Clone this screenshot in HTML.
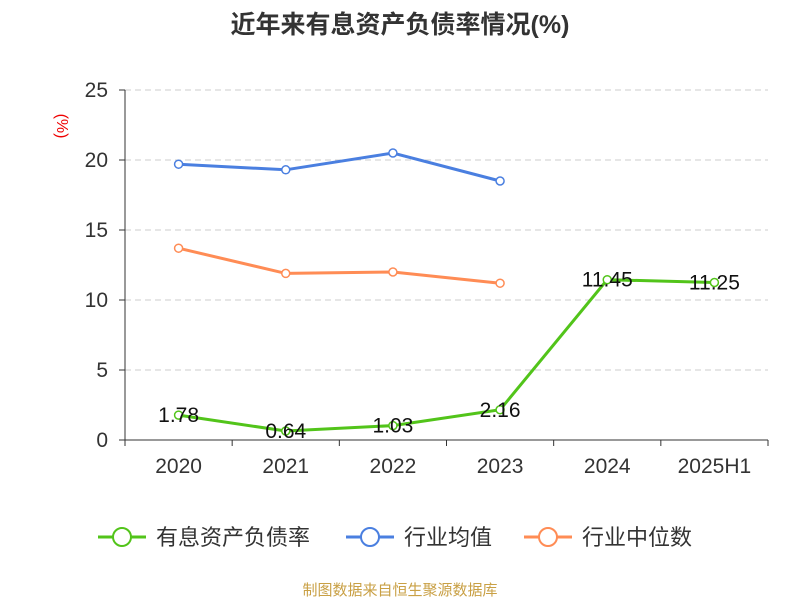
<!DOCTYPE html>
<html><head><meta charset="utf-8"><style>
body{margin:0;background:#fff;}
svg{font-family:"Liberation Sans","Noto Sans CJK SC",sans-serif;}
</style></head><body>
<svg id="c" width="800" height="600">
<text x="400" y="33" text-anchor="middle" font-size="25" font-weight="bold" fill="#333">近年来有息资产负债率情况(%)</text>
<text x="0" y="0" text-anchor="middle" font-size="16" fill="#e00" transform="translate(57 126) rotate(90)">(%)</text>
<g id="grid"></g><g id="axes"></g><g id="series"></g>
<g>
<g><line x1="98" y1="537" x2="146" y2="537" stroke="#52c41a" stroke-width="3"/><circle cx="122" cy="537" r="9" fill="#fff" stroke="#52c41a" stroke-width="2"/><text x="156" y="545" font-size="22" fill="#333">有息资产负债率</text></g>
<g><line x1="346" y1="537" x2="394" y2="537" stroke="#4a7fe0" stroke-width="3"/><circle cx="370" cy="537" r="9" fill="#fff" stroke="#4a7fe0" stroke-width="2"/><text x="404" y="545" font-size="22" fill="#333">行业均值</text></g>
<g><line x1="524" y1="537" x2="572" y2="537" stroke="#ff8c55" stroke-width="3"/><circle cx="548" cy="537" r="9" fill="#fff" stroke="#ff8c55" stroke-width="2"/><text x="582" y="545" font-size="22" fill="#333">行业中位数</text></g>
</g>
<text x="400" y="595" text-anchor="middle" font-size="15" fill="#c9a045">制图数据来自恒生聚源数据库</text>
</svg>
<script>
const categories=["2020","2021","2022","2023","2024","2025H1"];
const debtRatio=[1.78,0.64,1.03,2.16,11.45,11.25];
const industryAvg=[19.7,19.3,20.5,18.5];
const industryMedian=[13.7,11.9,12.0,11.2];
const yTicks=[0,5,10,15,20,25];
const NS="http://www.w3.org/2000/svg";
const L=125,R=768,T=90,B=440,yMax=25;
const bw=(R-L)/categories.length;
const xs=i=>L+bw*(i+0.5);
const ys=v=>B-(v/yMax)*(B-T);
function mk(tag,attrs,parent){const e=document.createElementNS(NS,tag);for(const k in attrs)e.setAttribute(k,attrs[k]);parent.appendChild(e);return e;}
const grid=document.getElementById('grid'),axes=document.getElementById('axes'),ser=document.getElementById('series');
yTicks.forEach(t=>{
 const y=ys(t);
 if(t>0){const g=mk('line',{x1:L,x2:R,y1:y,y2:y,stroke:'#ccc','stroke-dasharray':'6 4'},grid);
 
 }
 const tk=mk('line',{x1:L-6,x2:L,y1:y,y2:y,stroke:'#333'},axes);
 
 
 const tx=mk('text',{x:L-17,y:y+7,'text-anchor':'end','font-size':21,fill:'#333'},axes);tx.textContent=t;
 
 
});
const ya=mk('line',{x1:L,x2:L,y1:T,y2:B,stroke:'#333'},axes);


const xa=mk('line',{x1:L,x2:R,y1:B,y2:B,stroke:'#333'},axes);


for(let i=0;i<=categories.length;i++){const x=L+bw*i;const t=mk('line',{x1:x,x2:x,y1:B,y2:B+6,stroke:'#333'},axes);
 
 }
categories.forEach((c,i)=>{const t=mk('text',{x:xs(i),y:B+33,'text-anchor':'middle','font-size':21,fill:'#333'},axes);t.textContent=c;
 
 });
function line(vals,color,name,labels){
 const g=mk('g',{},ser);
 
 
 mk('polyline',{points:vals.map((v,i)=>xs(i)+','+ys(v)).join(' '),fill:'none',stroke:color,'stroke-width':3},g);
 vals.forEach((v,i)=>{const p=mk('circle',{cx:xs(i),cy:ys(v),r:4,fill:'#fff',stroke:color,'stroke-width':1.5},g);
  
  
  if(labels){const t=mk('text',{x:xs(i),y:ys(v)+7,'text-anchor':'middle','font-size':21,fill:'#111'},g);t.textContent=v.toFixed(2);
  
  }
 });
}
line(industryAvg,'#4a7fe0','industry-avg-line',false);
line(industryMedian,'#ff8c55','industry-median-line',false);
line(debtRatio,'#52c41a','debt-ratio-line',true);
</script>
</body></html>
